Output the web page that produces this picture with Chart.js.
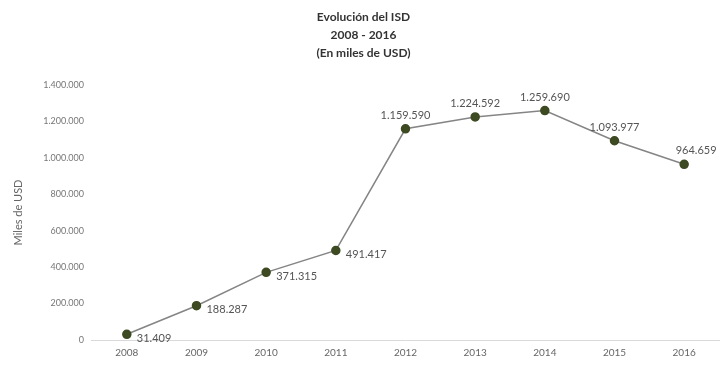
<!DOCTYPE html>
<html>
<head>
<meta charset="utf-8">
<script src="https://cdn.jsdelivr.net/npm/chart.js@4.4.1/dist/chart.umd.min.js"></script>
<style>
  html, body { margin: 0; padding: 0; background: #fff; }
  #wrap { width: 727px; height: 368px; }
</style>
</head>
<body>
<div id="wrap"><canvas id="myChart"></canvas></div>
<script>
const years = ['2008', '2009', '2010', '2011', '2012', '2013', '2014', '2015', '2016']
const isd = [31409, 188287, 371315, 491417, 1159590, 1224592, 1259690, 1093977, 964659]
const labelSide = ['right', 'right', 'right', 'right', 'top', 'top', 'top', 'top', 'top']

function fmt(v) {
  return v.toString().replace(/\B(?=(\d{3})+(?!\d))/g, '.')
}

// draws the value next to each point
const valueLabels = {
  id: 'valueLabels',
  afterDatasetsDraw(chart) {
    const ctx = chart.ctx
    const meta = chart.getDatasetMeta(0)
    ctx.save()
    ctx.font = '11px Lato'
    ctx.fillStyle = '#555'
    meta.data.forEach((pt, i) => {
      const txt = fmt(isd[i])
      if (labelSide[i] == 'right') {
        ctx.textAlign = 'left'
        ctx.textBaseline = 'middle'
        ctx.fillText(txt, pt.x + 10, pt.y + 4)
      } else {
        ctx.textAlign = 'center'
        ctx.textBaseline = 'bottom'
        let dx = i == isd.length - 1 ? 12 : 0
        ctx.fillText(txt, pt.x + dx, pt.y - 8)
      }
    })
    ctx.restore()
  }
}

var ctx = document.getElementById('myChart').getContext('2d');

var myChart = new Chart(ctx, {
  type: 'line',
  data: {
    labels: years,
    datasets: [{
      label: 'ISD',
      data: isd,
      borderColor: '#858585',
      borderWidth: 1.5,
      pointBackgroundColor: '#3d4a22',
      pointBorderColor: '#3d4a22',
      pointRadius: 4,
      tension: 0
    }]
  },
  options: {
    responsive: true,
    maintainAspectRatio: false,
    animation: false,
    layout: { padding: { left: 8, right: 8, top: 8, bottom: 2 } },
    plugins: {
      title: {
        display: true,
        text: ['Evolución del ISD', '2008 - 2016', '(En miles de USD)'],
        color: '#333',
        font: { family: 'Lato', size: 12, weight: 'bold', lineHeight: 1.5 },
        padding: { top: 0, bottom: 23 }
      },
      legend: { display: false },
      tooltip: { enabled: false }
    },
    scales: {
      x: {
        offset: true,
        grid: { display: false, drawTicks: false },
        border: { color: '#d9d9d9' },
        ticks: { color: '#666', font: { family: 'Lato', size: 10 }, padding: 7 }
      },
      y: {
        min: 0,
        max: 1400000,
        grid: { display: false, drawTicks: false },
        border: { display: false },
        ticks: {
          stepSize: 200000,
          color: '#777',
          font: { family: 'Lato', size: 9 },
          padding: 8,
          callback: v => fmt(v)
        },
        title: {
          display: true,
          text: 'Miles de USD',
          color: '#666',
          font: { family: 'Lato', size: 11 },
          padding: { bottom: 10 }
        }
      }
    }
  },
  plugins: [valueLabels]
});
</script>
</body>
</html>
